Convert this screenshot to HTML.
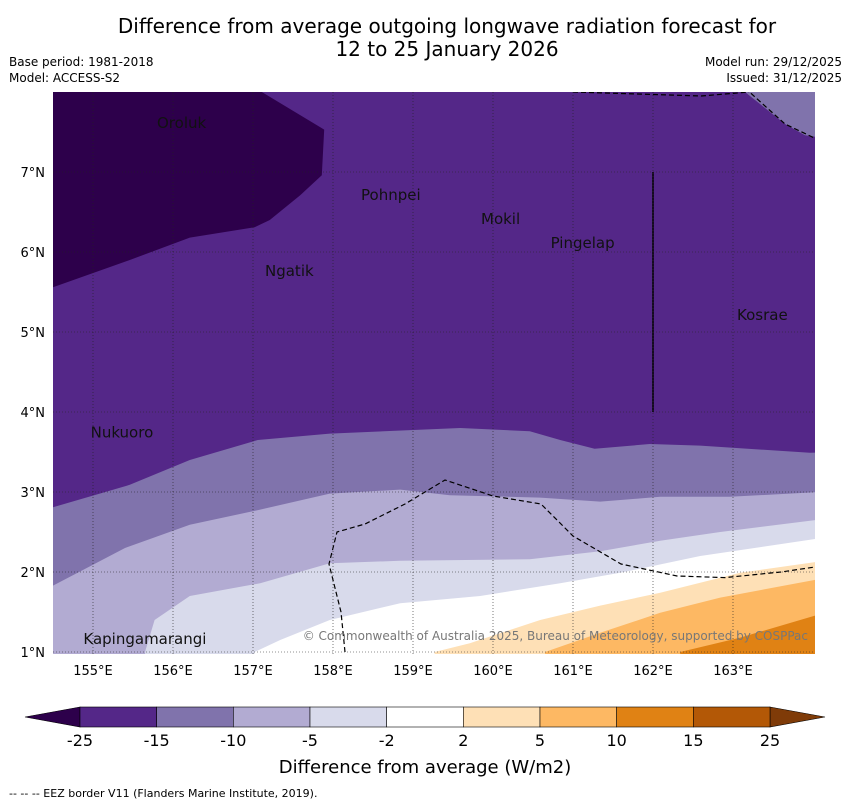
<!DOCTYPE html>
<html><head><meta charset="utf-8"><style>
body{margin:0;background:#fff;font-family:"Liberation Sans","DejaVu Sans",sans-serif;}
</style></head><body>
<svg width="850" height="804" xmlns="http://www.w3.org/2000/svg" font-family="DejaVu Sans, Liberation Sans, sans-serif">
<text x="447" y="33" font-size="20" text-anchor="middle">Difference from average outgoing longwave radiation forecast for</text>
<text x="447" y="56" font-size="20" text-anchor="middle">12 to 25 January 2026</text>
<text x="9" y="66" font-size="12">Base period: 1981-2018</text>
<text x="9" y="82" font-size="12">Model: ACCESS-S2</text>
<text x="842" y="66" font-size="12" text-anchor="end">Model run: 29/12/2025</text>
<text x="842" y="82" font-size="12" text-anchor="end">Issued: 31/12/2025</text>
<g id="map"></g>
<g id="cbar"></g>
<text x="425" y="773" font-size="18" text-anchor="middle">Difference from average (W/m2)</text>
<text x="9" y="797" font-size="11">--  --  -- EEZ border V11 (Flanders Marine Institute, 2019).</text>
</svg>
<script>
const lonTicks=[155,156,157,158,159,160,161,162,163];
const latTicks=[1,2,3,4,5,6,7];
const levels=[-25,-15,-10,-5,-2,2,5,10,15,25];
const levelColors=["#542788","#8073ac","#b2abd2","#d8daeb","#ffffff","#fee0b6","#fdb863","#e08214","#b35806"];
// contour boundaries as [lon,lat]
const darkRegion=[[154.5,8],[157.11,8],[157.89,7.53],[157.86,6.96],[157.59,6.71],[157.21,6.4],[157.02,6.31],[156.21,6.18],[155.46,5.9],[154.5,5.56]];
const topRightRegion=[[163.15,8],[163.65,7.6],[163.9,7.46],[164.28,7.4],[164.28,8]];
const bound15=[[154.5,2.81],[155.46,3.09],[156.21,3.4],[157.06,3.65],[157.96,3.73],[159.59,3.8],[160.46,3.76],[160.84,3.65],[161.27,3.54],[161.96,3.6],[162.59,3.58],[163.96,3.49],[164.28,3.5]];
const bound10=[[154.5,1.83],[155.4,2.3],[156.21,2.59],[157.09,2.78],[157.96,2.98],[158.84,3.03],[159.46,2.96],[160.59,2.93],[161.34,2.88],[162.09,2.94],[162.96,2.94],[164.28,3.01]];
const bound5=[[155.65,1],[155.77,1.4],[156.21,1.7],[157.09,1.86],[157.96,2.11],[158.84,2.14],[160.46,2.16],[161.34,2.26],[162.09,2.39],[162.84,2.5],[164.28,2.68]];
const bound2=[[157.02,1],[157.34,1.15],[157.96,1.4],[158.84,1.61],[159.84,1.7],[160.84,1.86],[161.59,1.99],[162.59,2.2],[164.28,2.45]];
const boundM2=[[159.27,1],[159.71,1.11],[160.59,1.4],[161.34,1.58],[162.09,1.74],[163.09,1.99],[164.28,2.16]];
const boundM5=[[160.65,1],[161.34,1.24],[162.09,1.49],[162.84,1.68],[164.28,1.95]];
const boundM10=[[162.34,1],[163.09,1.18],[164.28,1.53]];
const islands=[["Oroluk",155.8,7.55],["Pohnpei",158.35,6.65],["Mokil",159.85,6.35],["Pingelap",160.72,6.05],["Ngatik",157.15,5.7],["Kosrae",163.05,5.15],["Nukuoro",154.97,3.68],["Kapingamarangi",154.88,1.1]];
const eez1=[[161,8],[162.6,7.95],[163.2,8]];
const eez2=[[163.15,8.05],[163.65,7.6],[164.28,7.3]];
const eez3=[[158.15,1],[158.1,1.5],[157.95,2.1],[158.05,2.5],[158.4,2.6],[158.9,2.85],[159.4,3.15],[160,2.95],[160.6,2.85],[161,2.45],[161.6,2.1],[162.3,1.95],[162.9,1.93],[163.6,2.0],[164.28,2.1]];
const eezLine=[[162,7],[162,4]];

const NS="http://www.w3.org/2000/svg";
const X0=53,X1=815,Y0=92,Y1=654;
const xS=lon=>53+(lon-154.5)*80;
const yS=lat=>92+(8-lat)*80;
const map=document.getElementById('map');
function el(tag,attrs,parent){const e=document.createElementNS(NS,tag);for(const k in attrs)e.setAttribute(k,attrs[k]);(parent||map).appendChild(e);return e;}
const pts=a=>a.map(p=>xS(p[0]).toFixed(1)+','+yS(p[1]).toFixed(1)).join(' ');
const clip=el('clipPath',{id:'mc'});el('rect',{x:X0,y:Y0,width:X1-X0,height:Y1-Y0},clip);
const g=el('g',{'clip-path':'url(#mc)'});
let r=el('rect',{x:X0,y:Y0,width:X1-X0,height:Y1-Y0,fill:levelColors[0]},g);


let d=el('polygon',{points:pts(darkRegion),fill:'#2d004b'},g);


let tr=el('polygon',{points:pts(topRightRegion),fill:levelColors[1]},g);


const bounds=[bound15,bound10,bound5,bound2,boundM2,boundM5,boundM10];
bounds.forEach((b,i)=>{
  const first=b[0],last=b[b.length-1];
  let poly=b.concat([[164.4,last[1]],[164.4,0.9]]);
  if(first[1]>1.01){poly=poly.concat([[154.4,0.9],[154.4,first[1]]]);}
  else{poly=poly.concat([[first[0],0.9]]);}
  const p=el('polygon',{points:pts(poly),fill:levelColors[i+1]},g);
  
  
});
// grid
lonTicks.forEach(l=>{const ln=el('line',{x1:xS(l),x2:xS(l),y1:Y0,y2:Y1,stroke:'#222','stroke-width':0.6,'stroke-dasharray':'1,2'});

const t=el('text',{x:xS(l),y:675,'font-size':13,'text-anchor':'middle'});t.textContent=l+'°E';
});
latTicks.forEach(l=>{const ln=el('line',{x1:X0,x2:X1,y1:yS(l),y2:yS(l),stroke:'#222','stroke-width':0.6,'stroke-dasharray':'1,2'});

const t=el('text',{x:45,y:yS(l)+5,'font-size':13,'text-anchor':'end'});t.textContent=l+'°N';
});
[eez1,eez2,eez3].forEach(e=>{const pl=el('polyline',{points:pts(e),fill:'none',stroke:'#000','stroke-width':1.2,'stroke-dasharray':'5,3'},g);
});
const sl=el('polyline',{points:pts(eezLine),fill:'none',stroke:'#000','stroke-width':1.5},g);

islands.forEach(s=>{const t=el('text',{x:xS(s[1]),y:yS(s[2]),'font-size':15,fill:'#111'});t.textContent=s[0];
});
const cp=el('text',{x:808,y:640,'font-size':12,fill:'#777','text-anchor':'end'});
cp.textContent='© Commonwealth of Australia 2025, Bureau of Meteorology, supported by COSPPac';

// colorbar
const cb=document.getElementById('cbar');
const cx0=80,cx1=770,cy=707,ch=20,n=levelColors.length,w=(cx1-cx0)/n;
const lt=el('polygon',{points:`${cx0},${cy} 25,${cy+ch/2} ${cx0},${cy+ch}`,fill:'#2d004b',stroke:'#000','stroke-width':0.6},cb);

const rt=el('polygon',{points:`${cx1},${cy} 825,${cy+ch/2} ${cx1},${cy+ch}`,fill:'#7f3b08',stroke:'#000','stroke-width':0.6},cb);

levelColors.forEach((c,i)=>{const s=el('rect',{x:cx0+i*w,y:cy,width:w,height:ch,fill:c,stroke:'#000','stroke-width':0.6},cb);
});
levels.forEach((v,i)=>{const t=el('text',{x:cx0+i*w,y:746,'font-size':16,'text-anchor':'middle'},cb);t.textContent=v;
});
</script>
</body></html>
